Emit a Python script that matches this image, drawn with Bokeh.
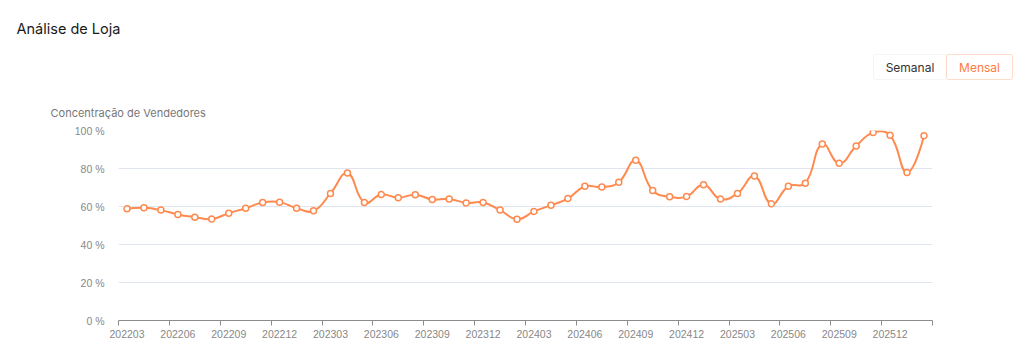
from bokeh.plotting import figure
from bokeh.layouts import column
from bokeh.models import (FixedTicker, PrintfTickFormatter, Label, BoxAnnotation,
                          ColumnDataSource, Range1d, LinearAxis)
from bokeh.embed import file_html
from bokeh.resources import INLINE

# ---- data ----
months = ["202203", "202204", "202205", "202206", "202207", "202208", "202209", "202210",
          "202211", "202212", "202301", "202302", "202303", "202304", "202305", "202306",
          "202307", "202308", "202309", "202310", "202311", "202312", "202401", "202402",
          "202403", "202404", "202405", "202406", "202407", "202408", "202409", "202410",
          "202411", "202412", "202501", "202502", "202503", "202504", "202505", "202506",
          "202507", "202508", "202509", "202510", "202511", "202512", "202601", "202602"]
concentration = [58.8, 59.3, 58.1, 55.8, 54.4, 53.4, 56.5, 59.1,
                 62.1, 62.3, 59.1, 57.7, 66.9, 77.6, 62.1, 66.3,
                 64.6, 66.2, 63.7, 64.0, 61.9, 62.1, 58.1, 53.3,
                 57.4, 60.7, 64.2, 70.6, 70.2, 72.8, 84.3, 68.4,
                 65.1, 65.3, 71.4, 63.9, 66.9, 76.0, 61.4, 70.6,
                 72.3, 92.9, 82.7, 91.8, 98.9, 97.5, 77.9, 97.3]
y_ticks = [0, 20, 40, 60, 80, 100]
label_every = 3

ORANGE = "#FF8A4F"
FONT = "Inter"
TICK_FONT = "Liberation Sans"
GRAY_TXT = "#888888"
GRAY_AX = "#8C8C8C"
W = 1024
HEAD_H = 122
CH_H = 228
LEFT, RIGHT, TOP, BOTTOM = 118, 92, 8, 30

# ---------------- header (title, y-axis name, buttons) ----------------
head = figure(width=W, height=HEAD_H, output_backend="svg", toolbar_location=None,
              x_range=Range1d(0, W), y_range=Range1d(HEAD_H, 0),
              x_axis_location=None, y_axis_location=None,
              min_border=0, min_border_left=0, min_border_right=0,
              min_border_top=0, min_border_bottom=0)
head.frame_align = False
head.outline_line_color = None
head.xgrid.grid_line_color = None
head.ygrid.grid_line_color = None
head.background_fill_color = "white"
head.border_fill_color = "white"

head.add_layout(Label(x=16, y=28, text="Análise de Loja", text_baseline="middle",
                      text_font=FONT, text_font_size="14.5px", text_color="#1A1A1A"))
head.add_layout(Label(x=50, y=112, text="Concentração de Vendedores", text_baseline="middle",
                      text_font=FONT, text_font_size="11px", text_color="#777777"))
head.add_layout(BoxAnnotation(left=873, right=946, top=54, bottom=79,
                              fill_color="white", fill_alpha=1, line_color="#DCDCDC",
                              line_width=1, border_radius=2))
head.add_layout(BoxAnnotation(left=946, right=1012, top=54, bottom=79,
                              fill_color="white", fill_alpha=1, line_color=ORANGE,
                              line_width=1, border_radius=2))
head.add_layout(Label(x=909.5, y=67, text="Semanal", text_align="center",
                      text_baseline="middle", text_font=FONT, text_font_size="12px",
                      text_color="#333333"))
head.add_layout(Label(x=979, y=67, text="Mensal", text_align="center",
                      text_baseline="middle", text_font=FONT, text_font_size="12px",
                      text_color="#FF7A3D"))

# ---------------- chart ----------------
n = len(months)
xs = [i + 0.5 for i in range(n)]

p = figure(width=W, height=CH_H, output_backend="svg", toolbar_location=None,
           x_range=Range1d(0, n), y_range=Range1d(0, 100),
           min_border_left=LEFT, min_border_right=RIGHT,
           min_border_top=TOP, min_border_bottom=BOTTOM)
p.frame_align = False
p.outline_line_color = None
p.background_fill_color = "white"
p.border_fill_color = "white"

# smooth curve: bezier segments whose control points are derived from the data
px_x = (W - LEFT - RIGHT) / n
px_y = (CH_H - TOP - BOTTOM) / 100.0
smooth = 0.45
cps = []
for i in range(n):
    x, y = xs[i], concentration[i]
    if i == 0 or i == n - 1:
        cps.append(((x, y), (x, y)))
        continue
    xp, yp = xs[i - 1], concentration[i - 1]
    xn, yn = xs[i + 1], concentration[i + 1]
    vx, vy = xn - xp, yn - yp
    d0 = ((x - xp) ** 2 * px_x ** 2 + (y - yp) ** 2 * px_y ** 2) ** 0.5
    d1 = ((xn - x) ** 2 * px_x ** 2 + (yn - y) ** 2 * px_y ** 2) ** 0.5
    s = d0 + d1
    a = (x - vx * smooth * d0 / s, y - vy * smooth * d0 / s)
    b = (x + vx * smooth * d1 / s, y + vy * smooth * d1 / s)
    cps.append((a, b))
seg = dict(x0=xs[:-1], y0=concentration[:-1], x1=xs[1:], y1=concentration[1:],
           cx0=[cps[i][1][0] for i in range(n - 1)], cy0=[cps[i][1][1] for i in range(n - 1)],
           cx1=[cps[i + 1][0][0] for i in range(n - 1)], cy1=[cps[i + 1][0][1] for i in range(n - 1)])
p.bezier(x0="x0", y0="y0", x1="x1", y1="y1", cx0="cx0", cy0="cy0", cx1="cx1", cy1="cy1",
         source=ColumnDataSource(seg), line_color=ORANGE, line_width=2)
p.scatter(xs, concentration, size=6, fill_color="white", line_color=ORANGE, line_width=1.5)

# y axis
p.yaxis.ticker = FixedTicker(ticks=y_ticks)
p.yaxis.formatter = PrintfTickFormatter(format="%d %%")
p.yaxis.axis_line_color = None
p.yaxis.major_tick_line_color = None
p.yaxis.minor_tick_line_color = None
p.yaxis.major_label_text_color = GRAY_TXT
p.yaxis.major_label_text_font = TICK_FONT
p.yaxis.major_label_text_font_size = "10.5px"
p.yaxis.major_label_standoff = 8

# x axis 1 (adjacent to the plot): line + boundary ticks, no visible labels
bound_ticks = list(range(0, n, label_every)) + [n]
p.xaxis.ticker = FixedTicker(ticks=bound_ticks)
p.xaxis.major_label_overrides = {t: "" for t in bound_ticks}
p.xaxis.major_label_text_font_size = "1px"
p.xaxis.major_label_standoff = 0
p.xaxis.axis_line_color = GRAY_AX
p.xaxis.major_tick_line_color = GRAY_AX
p.xaxis.major_tick_in = 0
p.xaxis.major_tick_out = 5
p.xaxis.minor_tick_line_color = None

# x axis 2: month labels centred on their bands
label_pos = [i + 0.5 for i in range(0, n, label_every)]
xlab = LinearAxis(ticker=FixedTicker(ticks=label_pos),
                  major_label_overrides={i + 0.5: months[i] for i in range(0, n, label_every)},
                  axis_line_color=None, major_tick_line_color=None,
                  minor_tick_line_color=None, major_label_standoff=-2,
                  major_label_text_color=GRAY_TXT, major_label_text_font=TICK_FONT,
                  major_label_text_font_size="10.5px")
p.add_layout(xlab, "below")

p.xgrid.grid_line_color = None
p.ygrid.ticker = FixedTicker(ticks=y_ticks)
p.ygrid.grid_line_color = "#E0E6F1"

layout = column(head, p, spacing=0)
open("out.html", "w").write(file_html(layout, INLINE))
